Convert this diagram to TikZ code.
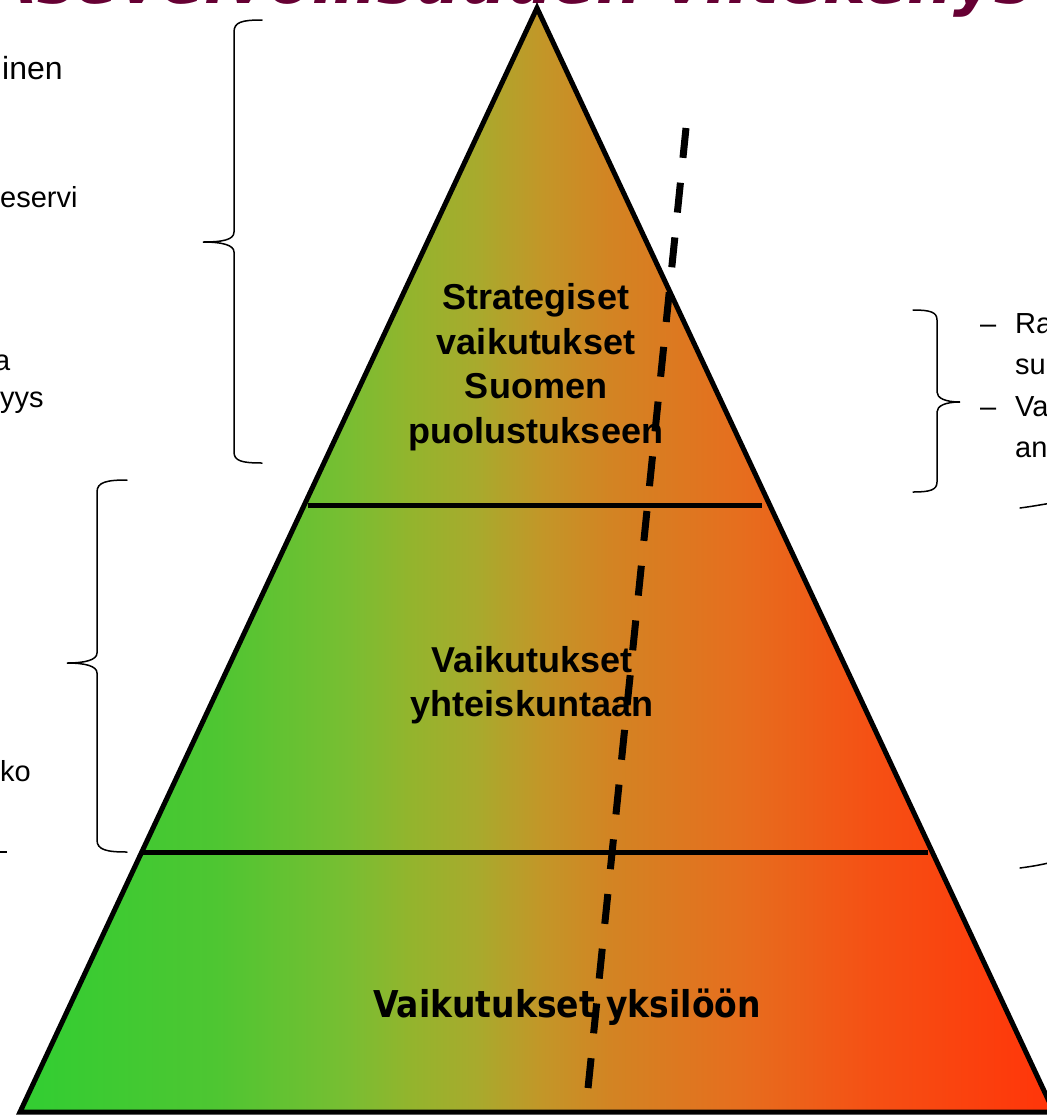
\documentclass[tikz,border=0pt]{standalone}
\usepackage{fontspec}
\setmainfont{Liberation Sans}
\newfontfamily\dejavu{DejaVu Sans}
\definecolor{titlecol}{RGB}{102,0,51}
\pgfdeclarehorizontalshading{pyrshade}{100bp}{
  rgb(0bp)=(0.204,0.804,0.196);
  rgb(26bp)=(0.204,0.804,0.196);
  rgb(34.5bp)=(0.306,0.776,0.196);
  rgb(40.8bp)=(0.471,0.745,0.196);
  rgb(44bp)=(0.580,0.706,0.176);
  rgb(47.1bp)=(0.659,0.667,0.176);
  rgb(50.3bp)=(0.765,0.588,0.157);
  rgb(53.5bp)=(0.824,0.518,0.137);
  rgb(59.8bp)=(0.902,0.431,0.118);
  rgb(66.2bp)=(0.961,0.314,0.078);
  rgb(74.1bp)=(1,0.216,0.039);
  rgb(100bp)=(1,0.216,0.039)}
\tikzset{
  edge/.style={line width=5pt},
  bracestroke/.style={line width=1.5pt, line cap=round},
  lvl/.style={font=\bfseries\fontsize{36}{44.6}\selectfont, align=center, inner sep=0pt},
  side/.style={font=\fontsize{29}{35}\selectfont, inner sep=0pt, anchor=base west},
}
\begin{document}
\begin{tikzpicture}[x=1pt,y=-1pt]
\useasboundingbox (0,0) rectangle (1047,1117);
\clip (0,0) rectangle (1047,1117);
% title (cut off by top edge)
\node[anchor=base east, inner sep=0pt, text=titlecol, font=\dejavu\bfseries\itshape\fontsize{64}{70}\selectfont] (title) at (1033,3) {Asevelvollisuuden viitekehys};
% pyramid
\shade[shading=pyrshade] (537,8) -- (1054,1112) -- (20,1112) -- cycle;
\draw[edge, line join=miter] (537,8) -- (1054,1112) -- (20,1112) -- cycle;
\draw[edge] (308,505) -- (762,505);
\draw[edge] (140,852) -- (928,852);
% level labels
\node[lvl] (strat) at (536,367) {Strategiset\\vaikutukset\\Suomen\\puolustukseen};
\node[lvl] (yht) at (532,685) {Vaikutukset\\yhteiskuntaan};
\node[anchor=base, inner sep=0pt, font=\dejavu\bfseries\fontsize{33}{40}\selectfont] (yks) at (567,1017) {\scalebox{1}[1.12]{Vaikutukset yksilöön}};
% dashed line
\coordinate (dtop) at (686,128);
\coordinate (dbot) at (586,1108);
\draw[line width=7pt, dash pattern=on 30pt off 25pt] (dtop) -- (dbot);
% left side text fragments
\node[side, font=\fontsize{32}{38}\selectfont] (l1) at (2,79) {inen};
\node[side] (l2) at (0,207) {eservi};
\node[side] (l3) at (-6,370) {a};
\node[side] (l4) at (0,407) {yys};
\node[side] (l5) at (0,781) {ko};
\draw[line width=1.5pt] (-10,852) -- (7,852);
% right side text fragments
\node[side] (r1d) at (980,333) {\textendash};
\node[side] (r1) at (1015,333) {Ra};
\node[side] (r2) at (1015,374) {su};
\node[side] (r3d) at (980,416) {\textendash};
\node[side] (r3) at (1015,416) {Va};
\node[side] (r4) at (1015,457) {an};
% braces
\draw[bracestroke] (262,20) .. controls (242,20) and (234,22) .. (234,32) -- (234,232) .. controls (234,240) and (222,242) .. (203,242) .. controls (222,242) and (234,245) .. (234,252) -- (234,452) .. controls (234,461) and (242,463) .. (262,463);
\draw[bracestroke] (127,480) .. controls (107,480) and (97,482) .. (97,492) -- (97,653) .. controls (97,660) and (85,663) .. (67,663) .. controls (85,663) and (97,666) .. (97,673) -- (97,840) .. controls (97,850) and (107,852) .. (127,852);
\draw[bracestroke] (913,310) .. controls (930,310) and (937,312) .. (937,320) -- (937,392) .. controls (937,398) and (945,402) .. (960,402) .. controls (945,402) and (937,406) .. (937,412) -- (937,482) .. controls (937,490) and (930,492) .. (913,492);
\draw[bracestroke] (1020,508) .. controls (1035,506) and (1045,504) .. (1052,503);
\draw[bracestroke] (1020,868) .. controls (1035,866) and (1045,864) .. (1052,862);
\end{tikzpicture}
\end{document}
